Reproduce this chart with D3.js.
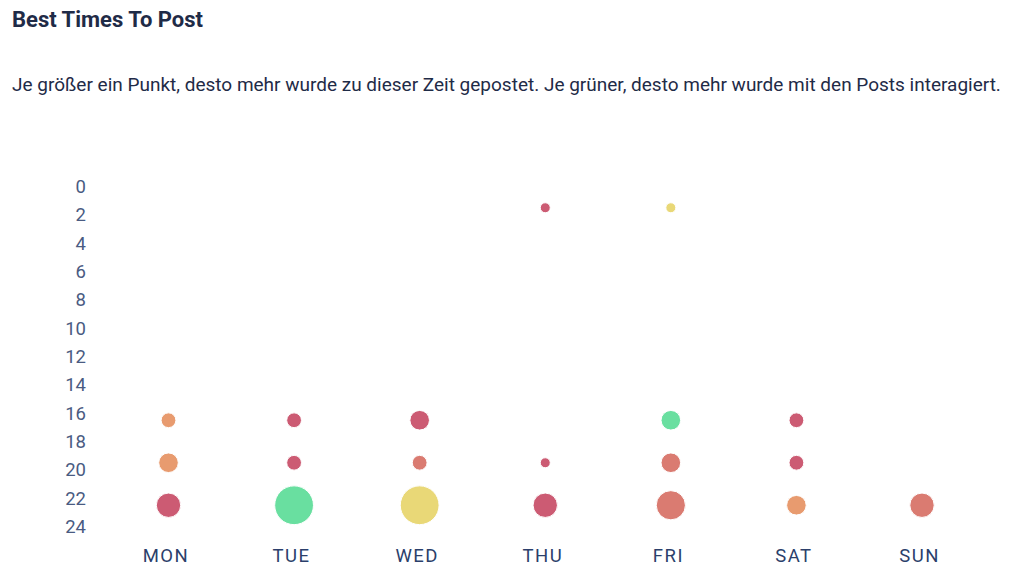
<!DOCTYPE html>
<html>
<head>
<meta charset="utf-8">
<script src="https://cdn.jsdelivr.net/npm/d3@7"></script>
<style>
  html, body { margin: 0; padding: 0; background: #fff; }
  body { font-family: Roboto, "Noto Sans", sans-serif; }
</style>
</head>
<body>
<div id="chart"></div>
<script>
// Days on the x axis and hour ticks on the y axis.
const days = ["MON", "TUE", "WED", "THU", "FRI", "SAT", "SUN"];
const hourTicks = [0, 2, 4, 6, 8, 10, 12, 14, 16, 18, 20, 22, 24];

// One entry per dot: day, hour slot, number of posts, engagement (0 = low, 1 = high).
const pointDays    = ["MON", "MON", "MON", "TUE", "TUE", "TUE", "WED", "WED", "WED", "THU", "THU", "THU", "FRI", "FRI", "FRI", "FRI", "SAT", "SAT", "SAT", "SUN"];
const pointHours   = [16.5, 19.5, 22.5, 16.5, 19.5, 22.5, 16.5, 19.5, 22.5, 1.5, 19.5, 22.5, 1.5, 16.5, 19.5, 22.5, 16.5, 19.5, 22.5, 22.5];
const pointPosts   = [2, 3, 4, 2, 2, 7, 3, 2, 7, 1, 1, 4, 1, 3, 3, 5, 2, 2, 3, 4];
const pointEngage  = [0.3, 0.3, 0, 0, 0, 1, 0, 0.15, 0.65, 0, 0, 0, 0.65, 1, 0.15, 0.15, 0, 0, 0.3, 0.15];

const width = 1024;
const height = 584;

const svg = d3.select("#chart")
  .append("svg")
    .attr("width", width)
    .attr("height", height);

// Title and description
svg.append("text")
    .attr("x", 12)
    .attr("y", 27)
    .attr("fill", "#1f2b47")
    .attr("font-size", 22)
    .attr("font-weight", 700)
    .text("Best Times To Post");

svg.append("text")
    .attr("x", 12)
    .attr("y", 91)
    .attr("fill", "#1f2b47")
    .attr("font-size", 19)
    .text("Je größer ein Punkt, desto mehr wurde zu dieser Zeit gepostet. Je grüner, desto mehr wurde mit den Posts interagiert.");

// Scales
const x = d3.scalePoint()
    .domain(days)
    .range([168.5, 922]);

const y = d3.scaleLinear()
    .domain([0, 24])
    .range([186.5, 526.5]);

const r = d3.scaleLinear()
    .domain([1, 7])
    .range([5, 19.4]);

const color = d3.scaleLinear()
    .domain([0, 0.3, 0.65, 1])
    .range(["#cc5b73", "#e89b6f", "#e9d877", "#69dfa0"]);

// Y axis: labels only
const yAxis = svg.append("g")
    .attr("transform", "translate(86,0)")
    .call(d3.axisLeft(y).tickValues(hourTicks).tickSize(0).tickPadding(0));
yAxis.select(".domain").remove();
yAxis.selectAll("text")
    .attr("fill", "#4a5b82")
    .attr("font-size", 18.5)
    .attr("font-family", "Roboto, sans-serif");

// X axis: day labels only
const xAxis = svg.append("g")
    .attr("transform", "translate(-3,549)")
    .call(d3.axisBottom(x).tickSize(0).tickPadding(0));
xAxis.select(".domain").remove();
xAxis.selectAll("text")
    .attr("fill", "#2b3f6b")
    .attr("font-size", 18.5)
    .attr("letter-spacing", "1.5px")
    .attr("font-family", "Roboto, sans-serif");

// Dots
const points = pointDays.map((d, i) => ({
  day: d, hour: pointHours[i], posts: pointPosts[i], engage: pointEngage[i]
}));

svg.append("g")
  .selectAll("circle")
  .data(points)
  .join("circle")
    .attr("cx", d => x(d.day))
    .attr("cy", d => y(d.hour))
    .attr("r", d => r(d.posts))
    .attr("fill", d => color(d.engage))
    .attr("stroke", "#fff")
    .attr("stroke-width", 1);
</script>
</body>
</html>
